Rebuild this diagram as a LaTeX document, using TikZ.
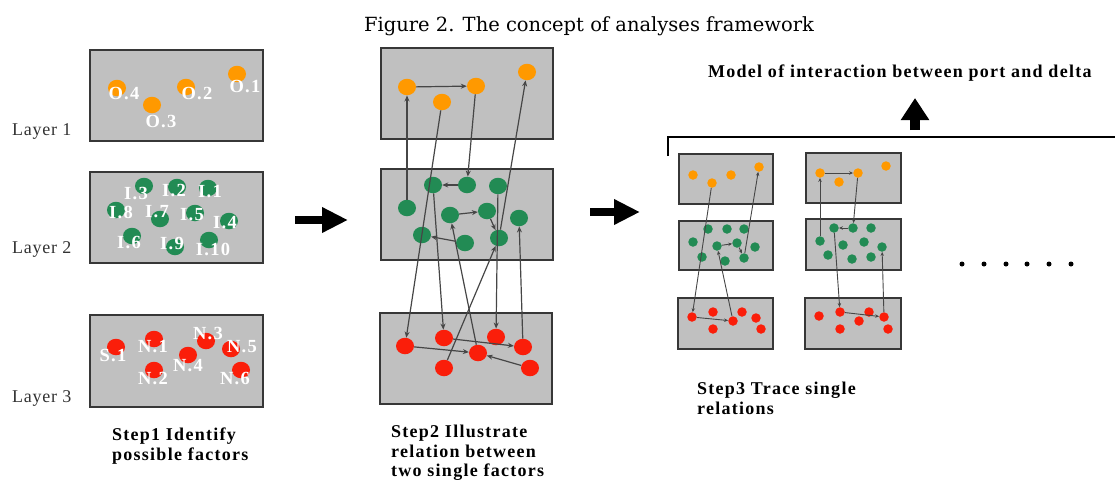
\documentclass[tikz,border=0pt]{standalone}
\usepackage{fontspec}
\setmainfont{Liberation Serif}
\newfontfamily\figtitlefont{DejaVu Serif}
\newfontfamily\lsfont[LetterSpace=7]{Liberation Serif}
\newfontfamily\lsfontl[LetterSpace=4]{Liberation Serif}
\usetikzlibrary{arrows.meta,shapes.geometric}
\definecolor{panelgray}{RGB}{192,192,192}
\definecolor{bordergray}{RGB}{55,55,55}
\definecolor{congray}{RGB}{70,70,70}
\definecolor{dotorange}{RGB}{255,153,0}
\definecolor{dotgreen}{RGB}{34,139,84}
\definecolor{dotred}{RGB}{250,30,10}
\definecolor{layergray}{RGB}{50,50,50}
\newcommand\labfont{\lsfont\bfseries\fontsize{18.5}{18.5}\selectfont}
\newcommand\stepfont{\lsfont\bfseries\fontsize{18}{19.5}\selectfont}
\begin{document}
\begin{tikzpicture}[x=1pt,y=-1pt,
  panel/.style={draw=bordergray, fill=panelgray, line width=2pt},
  spanel/.style={draw=bordergray, fill=panelgray, line width=1.4pt},
  dot/.style={ellipse, inner sep=0pt, minimum width=18pt, minimum height=16.5pt},
  sdot/.style={circle, inner sep=0pt, minimum size=9.5pt},
  od/.style={dot, fill=dotorange},
  gd/.style={dot, fill=dotgreen},
  rd/.style={dot, fill=dotred},
  sod/.style={sdot, fill=dotorange},
  sgd/.style={sdot, fill=dotgreen},
  srd/.style={sdot, fill=dotred},
  lab/.style={text=white, font=\labfont, inner sep=0pt},
  layer/.style={text=layergray, font=\lsfontl\fontsize{18}{18}\selectfont, inner sep=0pt, anchor=base west},
  steplab/.style={font=\stepfont, align=left, inner sep=0pt, anchor=north west},
  con/.style={draw=congray, line width=1.2pt, -{Stealth[length=6pt,width=5pt]}},
  scon/.style={draw=congray, line width=0.9pt, -{Stealth[length=4pt,width=3.5pt]}},
  bigarrow/.style={draw=black, line width=8pt, -{Triangle[length=26pt,width=24pt]}},
]
\useasboundingbox (0,0) rectangle (1115,480);

% title
\node[font=\figtitlefont\fontsize{19.5}{19.5}\selectfont, anchor=base, inner sep=0pt] (title) at (589,31) {Figure 2. The concept of analyses framework};

% ---------- Step 1 ----------
\node[layer] (lay1) at (12,135) {Layer 1};
\node[layer] (lay2) at (12,253) {Layer 2};
\node[layer] (lay3) at (12,402) {Layer 3};

\draw[panel] (90,50) rectangle (263,141);
\draw[panel] (90,172) rectangle (263,263);
\draw[panel] (90,315) rectangle (263,407);

\node[od] (o4) at (117,88) {};
\node[od] (o3) at (152,105) {};
\node[od] (o2) at (186,87) {};
\node[od] (o1) at (237,74) {};
\node[lab] (lo4) at (124,94) {O.4};
\node[lab] (lo3) at (161,122) {O.3};
\node[lab] (lo2) at (197,94) {O.2};
\node[lab] (lo1) at (245,87) {O.1};

\node[gd] (i3) at (144,186) {};
\node[gd] (i2) at (177,187) {};
\node[gd] (i1) at (208,188) {};
\node[gd] (i8) at (116,210) {};
\node[gd] (i7) at (160,219) {};
\node[gd] (i5) at (195,213) {};
\node[gd] (i4) at (229,221) {};
\node[gd] (i6) at (132,236) {};
\node[gd] (i9) at (175,247) {};
\node[gd] (i10) at (209,240) {};
\node[lab] (li3) at (136,193) {I.3};
\node[lab] (li2) at (174,191) {I.2};
\node[lab] (li1) at (210,192) {I.1};
\node[lab] (li8) at (121,212) {I.8};
\node[lab] (li7) at (157,212) {I.7};
\node[lab] (li5) at (192,215) {I.5};
\node[lab] (li4) at (225,223) {I.4};
\node[lab] (li6) at (129,242) {I.6};
\node[lab] (li9) at (172,243) {I.9};
\node[lab] (li10) at (213,249) {I.10};

\node[rd] (s1) at (116,347) {};
\node[rd] (n1) at (154,339) {};
\node[rd] (n2) at (154,370) {};
\node[rd] (n3) at (206,341) {};
\node[rd] (n4) at (188,355) {};
\node[rd] (n5) at (231,349) {};
\node[rd] (n6) at (241,370) {};
\node[lab] (ls1) at (113,355) {S.1};
\node[lab] (ln1) at (153,347) {N.1};
\node[lab] (ln2) at (153,378) {N.2};
\node[lab] (ln3) at (208,333) {N.3};
\node[lab] (ln4) at (188,366) {N.4};
\node[lab] (ln5) at (242,347) {N.5};
\node[lab] (ln6) at (235,378) {N.6};

\node[steplab] (step1) at (112,428) {Step1 Identify\\possible factors};

% big arrows
\coordinate (ar1s) at (295,220);
\coordinate (ar1e) at (348,220);
\draw[bigarrow] (ar1s) -- (ar1e);
\coordinate (ar2s) at (590,212);
\coordinate (ar2e) at (640,212);
\draw[bigarrow] (ar2s) -- (ar2e);

% ---------- Step 2 ----------
\draw[panel] (381,48) rectangle (553,139);
\draw[panel] (381,169) rectangle (553,260);
\draw[panel] (380,313) rectangle (552,404);

\node[od] (A1) at (407,87) {};
\node[od] (A2) at (442,102) {};
\node[od] (A3) at (476,86) {};
\node[od] (A4) at (527,72) {};

\node[gd] (B1) at (433,185) {};
\node[gd] (B2) at (467,185) {};
\node[gd] (B3) at (498,186) {};
\node[gd] (B4) at (407,208) {};
\node[gd] (B5) at (450,215) {};
\node[gd] (B6) at (487,211) {};
\node[gd] (B7) at (519,218) {};
\node[gd] (B8) at (422,235) {};
\node[gd] (B9) at (465,243) {};
\node[gd] (B10) at (499,238) {};

\node[rd] (C1) at (405,346) {};
\node[rd] (C2) at (444,338) {};
\node[rd] (C3) at (444,368) {};
\node[rd] (C4) at (496,337) {};
\node[rd] (C5) at (478,353) {};
\node[rd] (C6) at (523,347) {};
\node[rd] (C7) at (530,368) {};

\draw[con] (A1) -- (A3);
\draw[con] (B4) -- (A1);
\draw[con] (A2) -- (C1);
\draw[con] (A3) -- (B2);
\draw[con] (B10) -- (A4);
\draw[con] (B2) -- (B1);
\draw[con] (B5) -- (B6);
\draw[con] (B6) -- (B10);
\draw[con] (B9) -- (B8);
\draw[con] (B1) -- (C2);
\draw[con] (C3) -- (B10);
\draw[con] (C5) -- (B5);
\draw[con] (B3) -- (C4);
\draw[con] (C6) -- (B7);
\draw[con] (C1) -- (C5);
\draw[con] (C2) -- (C6);
\draw[con] (C7) -- (C5);

\node[steplab] (step2) at (391,425) {Step2 Illustrate\\relation between\\two single factors};

% ---------- Step 3 ----------
\node[font=\lsfont\bfseries\fontsize{18}{18}\selectfont, anchor=base west, inner sep=0pt] (model) at (708,77) {Model of interaction between port and delta};
\coordinate (upS) at (915,130);
\coordinate (upE) at (915,98);
\draw[draw=black, line width=9.5pt, -{Triangle[length=22pt,width=27pt]}] (upS) -- (upE);

\coordinate (brA) at (668,156);
\coordinate (brB) at (668,137);
\coordinate (brC) at (1115,137);
\draw[line width=2.5pt] (brA) -- (brB) -- (brC);

\draw[spanel] (679,154) rectangle (773,204);
\draw[spanel] (679,221) rectangle (773,270);
\draw[spanel] (678,298) rectangle (773,349);
\draw[spanel] (806,153) rectangle (901,203);
\draw[spanel] (806,219) rectangle (901,270);
\draw[spanel] (805,298) rectangle (901,349);

\node[sod] (P1a) at (693,175) {};
\node[sod] (P1b) at (712,183) {};
\node[sod] (P1c) at (731,175) {};
\node[sod] (P1d) at (759,167) {};
\node[sgd] (P2a) at (708,229) {};
\node[sgd] (P2b) at (727,229) {};
\node[sgd] (P2c) at (744,229) {};
\node[sgd] (P2d) at (693,242) {};
\node[sgd] (P2e) at (717,246) {};
\node[sgd] (P2f) at (737,243) {};
\node[sgd] (P2g) at (755,247) {};
\node[sgd] (P2h) at (702,257) {};
\node[sgd] (P2i) at (725,261) {};
\node[sgd] (P2j) at (744,258) {};
\node[srd] (P3a) at (692,317) {};
\node[srd] (P3b) at (713,312) {};
\node[srd] (P3c) at (733,321) {};
\node[srd] (P3d) at (742,312) {};
\node[srd] (P3e) at (756,318) {};
\node[srd] (P3f) at (713,329) {};
\node[srd] (P3g) at (761,329) {};

\node[sod] (Q1a) at (820,173) {};
\node[sod] (Q1b) at (839,182) {};
\node[sod] (Q1c) at (858,173) {};
\node[sod] (Q1d) at (886,166) {};
\node[sgd] (Q2a) at (834,228) {};
\node[sgd] (Q2b) at (853,228) {};
\node[sgd] (Q2c) at (871,228) {};
\node[sgd] (Q2d) at (820,241) {};
\node[sgd] (Q2e) at (843,245) {};
\node[sgd] (Q2f) at (864,242) {};
\node[sgd] (Q2g) at (882,247) {};
\node[sgd] (Q2h) at (828,255) {};
\node[sgd] (Q2i) at (852,259) {};
\node[sgd] (Q2j) at (871,257) {};
\node[srd] (Q3a) at (819,316) {};
\node[srd] (Q3b) at (840,312) {};
\node[srd] (Q3c) at (869,312) {};
\node[srd] (Q3d) at (859,321) {};
\node[srd] (Q3e) at (884,317) {};
\node[srd] (Q3f) at (840,329) {};
\node[srd] (Q3g) at (888,329) {};

\draw[scon] (P1b) -- (P3a);
\draw[scon] (P2e) -- (P2f);
\draw[scon] (P2f) -- (P2j);
\draw[scon] (P2j) -- (P1d);
\draw[scon] (P3c) -- (P2e);
\draw[scon] (P3a) -- (P3c);

\draw[scon] (Q2d) -- (Q1a);
\draw[scon] (Q1a) -- (Q1c);
\draw[scon] (Q1c) -- (Q2b);
\draw[scon] (Q2b) -- (Q2a);
\draw[scon] (Q2a) -- (Q3b);
\draw[scon] (Q3e) -- (Q2g);
\draw[scon] (Q3b) -- (Q3e);

\foreach \k/\x in {1/962,2/984,3/1006,4/1027,5/1049,6/1071}
  \fill (\x,264) circle (2.5pt);

\node[steplab] (step3) at (697,382) {Step3 Trace single\\relations};
\end{tikzpicture}
\end{document}
